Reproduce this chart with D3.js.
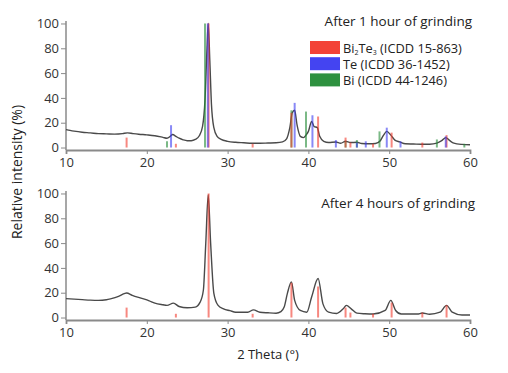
<!DOCTYPE html>
<html>
<head>
<meta charset="utf-8">
<script src="https://cdn.jsdelivr.net/npm/d3@7"></script>
<style>
  body { margin: 0; background: #fff; }
  svg { display: block; font-family: "Open Sans", "DejaVu Sans", sans-serif; }
</style>
</head>
<body>
<svg id="chart" width="508" height="373"></svg>
<script>
"use strict";

// ---------------------------------------------------------------------------
// Data
// ---------------------------------------------------------------------------

const thetaTicks = [10, 20, 30, 40, 50, 60];
const intensityTicks = [0, 20, 40, 60, 80, 100];

// measured pattern after 1 hour of grinding: [2theta, intensity %]
const curve1h = [
  [10, 14.5], [10.5, 13.8], [11, 13.2], [12, 12.3], [13, 11.8], [14, 11.2],
  [15, 11], [16, 10.8], [17, 11.2], [17.6, 11.8], [18.3, 11.2], [19, 10.7],
  [20, 10.2], [21, 9.5], [22, 8.2], [22.5, 7.5], [22.9, 9], [23.2, 10.5],
  [23.6, 9], [24, 7.5], [24.5, 6.2], [25, 5.5], [25.5, 5.5], [26, 6.5],
  [26.5, 9.5], [26.9, 17], [27.2, 38], [27.45, 80], [27.6, 100], [27.8, 70],
  [28.0, 35], [28.3, 16], [28.7, 9], [29.2, 6.5], [30, 5], [31, 4.2],
  [32, 3.8], [33, 3.4], [34, 3.4], [35, 3.6], [36, 3.8], [36.8, 4.5],
  [37.3, 7], [37.7, 16], [38.0, 28], [38.3, 30], [38.6, 18], [39.0, 9],
  [39.4, 8], [39.7, 10], [40.0, 13], [40.4, 21], [40.7, 17], [41.1, 16],
  [41.4, 9], [41.9, 5], [42.5, 4], [43.4, 4.5], [44, 3.5], [44.6, 5],
  [45.2, 4], [46, 4.2], [46.6, 3.2], [47.5, 3], [48.3, 3.2], [48.9, 5.5],
  [49.3, 10], [49.7, 13], [50.2, 10], [50.7, 6], [51.3, 4.5], [52, 3],
  [53, 2.8], [54, 2.6], [55, 2.6], [55.9, 3.5], [56.5, 5.5], [57, 8],
  [57.5, 5.5], [58, 3.5], [59, 2.5], [60, 2.2]
];

// measured pattern after 4 hours of grinding
const curve4h = [
  [10, 15.2], [11, 14.8], [12, 14.4], [13, 14], [14, 13.8], [15, 14.3],
  [15.5, 15], [16.5, 17], [17.2, 19.2], [17.5, 19.8], [18.2, 17.9],
  [19.5, 15.2], [20.3, 13.4], [21, 11.6], [22, 10.3], [22.5, 9.8],
  [23.3, 11.6], [24, 8.9], [25, 7.9], [26, 8.4], [26.6, 12.4], [27, 22],
  [27.3, 60], [27.6, 99], [27.9, 60], [28.3, 19.5], [28.8, 10], [29.5, 7],
  [30.3, 5.5], [31, 4.3], [32.5, 4.3], [33.2, 6.2], [34, 4.3], [35, 3.8],
  [36, 3.5], [36.6, 4.8], [37, 8.4], [37.4, 19.5], [37.9, 28.7], [38.3, 13.8],
  [39, 5.7], [39.8, 4.3], [40.4, 16.5], [41.2, 31.4], [41.8, 11], [42.5, 4.3],
  [43.5, 3.3], [44.3, 7], [44.7, 9.8], [45.3, 7], [46, 3.5], [47, 3],
  [48, 2.8], [49.5, 5.7], [50.2, 13.8], [50.8, 5.7], [51.5, 2.8], [52.5, 2.8],
  [53.5, 2.8], [54.1, 3.6], [55, 2.6], [56.3, 4.3], [57.1, 9.8], [57.8, 4.3],
  [59, 2], [60, 2]
];

// reference stick patterns: [2theta, relative intensity %]
const bi2te3Sticks = [
  [17.5, 8], [23.6, 3], [27.65, 100], [33.1, 3], [37.9, 28], [41.2, 25],
  [44.6, 8], [45.2, 4], [48.0, 3], [50.3, 12], [54.1, 4], [57.1, 10]
];
const teSticks = [
  [23.0, 18], [27.55, 100], [38.3, 36], [40.5, 26], [43.4, 6], [46.0, 4],
  [47.1, 5], [49.7, 16], [51.4, 5], [57.0, 9]
];
const biSticks = [
  [22.5, 5], [27.2, 100], [37.9, 30], [39.7, 29], [44.6, 5], [46.0, 6],
  [48.8, 13], [55.9, 6.5], [59.3, 3]
];

const legendLabels = [
  { name: "Bi", sub1: "2", mid: "Te", sub2: "3", rest: " (ICDD 15-863)" },
  { name: "Te", rest: " (ICDD 36-1452)" },
  { name: "Bi", rest: " (ICDD 44-1246)" }
];
const phaseColors = ["#f2392c", "#3a3af0", "#238b35"];

// ---------------------------------------------------------------------------
// Layout
// ---------------------------------------------------------------------------

const svg = d3.select("#chart");

const x = d3.scaleLinear().domain([10, 60]).range([66, 470]);

const panels = [
  { curve: curve1h, sticks: [biSticks, bi2te3Sticks, teSticks], stickColors: [phaseColors[2], phaseColors[0], phaseColors[1]],
    top: 21, bottom: 150, title: "After 1 hour of grinding", titleX: 472, titleY: 26 },
  { curve: curve4h, sticks: [bi2te3Sticks], stickColors: [phaseColors[0]],
    top: 191, bottom: 320, title: "After 4 hours of grinding", titleX: 475, titleY: 208 }
];

panels.forEach((p) => {
  const y = d3.scaleLinear().domain([-2, 102]).range([p.bottom, p.top]);
  const g = svg.append("g");

  // y axis
  const yAxis = g.append("g").attr("transform", `translate(${x.range()[0]},0)`);
  yAxis.call(d3.axisLeft(y).tickValues(d3.range(0, 101, 5)).tickSize(2).tickFormat(""));
  yAxis.call(d3.axisLeft(y).tickValues(intensityTicks).tickSize(5).tickPadding(2));
  yAxis.selectAll("path.domain").remove();
  yAxis.append("line")
    .attr("y1", p.top).attr("y2", p.bottom)
    .attr("stroke", "#8a8a8a").attr("stroke-width", 1.5);
  yAxis.selectAll(".tick line").attr("stroke", "#8a8a8a");
  yAxis.selectAll(".tick text")
    .attr("fill", "#333").attr("font-size", "13px")
    .attr("font-family", "'Open Sans', sans-serif");

  // x axis
  const xAxis = g.append("g").attr("transform", `translate(0,${p.bottom})`);
  xAxis.call(d3.axisBottom(x).tickValues(d3.range(10, 61, 5)).tickSize(3).tickFormat(""));
  xAxis.call(d3.axisBottom(x).tickValues(thetaTicks).tickSize(4).tickPadding(4));
  xAxis.selectAll("path.domain").attr("stroke", "#8a8a8a").attr("stroke-width", 1.8);
  xAxis.selectAll(".tick line").attr("stroke", "#8a8a8a");
  xAxis.selectAll(".tick text")
    .attr("fill", "#333").attr("font-size", "13px")
    .attr("font-family", "'Open Sans', sans-serif");

  // measured curve
  const line = d3.line()
    .x((d) => x(d[0]))
    .y((d) => y(d[1]))
    .curve(d3.curveMonotoneX);
  g.append("path")
    .datum(p.curve)
    .attr("d", line)
    .attr("fill", "none")
    .attr("stroke", "#4a4a4a")
    .attr("stroke-width", 1.4);

  // reference sticks
  p.sticks.forEach((set, i) => {
    g.append("g")
      .selectAll("line")
      .data(set)
      .join("line")
      .attr("x1", (d) => x(d[0]))
      .attr("x2", (d) => x(d[0]))
      .attr("y1", y(0))
      .attr("y2", (d) => y(d[1]))
      .attr("stroke", p.stickColors[i])
      .attr("stroke-width", 2)
      .attr("stroke-opacity", 0.6);
  });

  // panel title
  g.append("text")
    .attr("x", p.titleX)
    .attr("y", p.titleY)
    .attr("text-anchor", "end")
    .attr("fill", "#222")
    .attr("font-size", "13.5px")
    .text(p.title);
});

// ---------------------------------------------------------------------------
// Legend
// ---------------------------------------------------------------------------

const legend = svg.append("g").attr("transform", "translate(310,41)");
legendLabels.forEach((lab, i) => {
  const row = legend.append("g").attr("transform", `translate(0,${i * 16.2})`);
  row.append("rect")
    .attr("width", 30).attr("height", 13)
    .attr("fill", phaseColors[i]).attr("opacity", 0.95);
  const t = row.append("text")
    .attr("x", 33).attr("y", 11.5)
    .attr("fill", "#222").attr("font-size", "12.8px");
  t.append("tspan").text(lab.name);
  if (lab.sub1) {
    // small subscripts, shifted only a little so rows don't collide
    t.append("tspan").attr("font-size", "7px").attr("baseline-shift", "-1.5").text(lab.sub1);
    t.append("tspan").text(lab.mid);
    t.append("tspan").attr("font-size", "7px").attr("baseline-shift", "-1.5").text(lab.sub2);
    t.append("tspan").text(lab.rest);
  } else {
    t.append("tspan").text(lab.rest);
  }
});

// ---------------------------------------------------------------------------
// Axis titles
// ---------------------------------------------------------------------------

svg.append("text")
  .attr("transform", "translate(22,172) rotate(-90)")
  .attr("text-anchor", "middle")
  .attr("fill", "#222")
  .attr("font-size", "14px")
  .text("Relative intensity (%)");

svg.append("text")
  .attr("x", 268)
  .attr("y", 359)
  .attr("text-anchor", "middle")
  .attr("fill", "#222")
  .attr("font-size", "13px")
  .text("2 Theta (°)");
</script>
</body>
</html>
